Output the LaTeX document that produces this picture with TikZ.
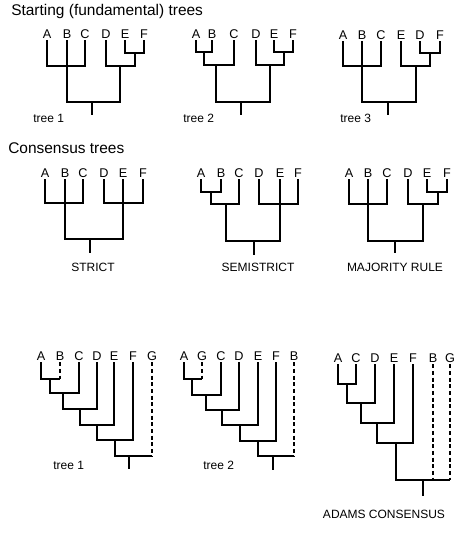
\documentclass[tikz,border=0pt]{standalone}
\usepackage{fontspec}
\setmainfont{Liberation Sans}
\usepackage{tikz}
\tikzstyle{leaf} = [inner sep=1.2pt, font=\fontsize{9.5}{10}\selectfont]
\tikzstyle{branch} = [line width=2.2pt, black]
\tikzstyle{unsure} = [branch, dash pattern=on 3pt off 2pt]
\tikzstyle{heading} = [anchor=base west, inner sep=0pt, font=\fontsize{11.6}{13}\selectfont]
\tikzstyle{caption} = [inner sep=0pt, font=\fontsize{9}{10}\selectfont]

\begin{document}
\begin{tikzpicture}[x=0.75pt, y=-0.75pt]
\fill[white] (0,0) rectangle (465,541);
\useasboundingbox (0,0) rectangle (465,541);

% Headings
\node (hstart) [heading] at (11,15.5) {Starting (fundamental) trees};
\node (hcons) [heading] at (8,154) {Consensus trees};

% Starting tree 1
\node (t1a) [leaf] at (47,34) {A};
\node (t1b) [leaf] at (67,34) {B};
\node (t1c) [leaf] at (85,34) {C};
\node (t1d) [leaf] at (106,34) {D};
\node (t1e) [leaf] at (125,34) {E};
\node (t1f) [leaf] at (144,34) {F};
\coordinate (t1abc) at (67,66);
\coordinate (t1ef) at (135,53);
\coordinate (t1def) at (120,66);
\coordinate (t1r) at (92,102);
\coordinate (t1root) at (92,115);
\draw[branch] (t1a.south) |- (t1abc) -| (t1c.south);
\draw[branch] (t1b.south) |- (t1abc);
\draw[branch] (t1e.south) |- (t1ef) -| (t1f.south);
\draw[branch] (t1d.south) |- (t1def) -| (t1ef);
\draw[branch] (t1abc) |- (t1r) -| (t1def);
\draw[branch] (t1r) -- (t1root);
\node (t1lab) [caption, anchor=west] at (33,118) {tree 1};

% Starting tree 2
\node (t2a) [leaf] at (196,34) {A};
\node (t2b) [leaf] at (212,34) {B};
\node (t2c) [leaf] at (234,34) {C};
\node (t2d) [leaf] at (256,34) {D};
\node (t2e) [leaf] at (274,34) {E};
\node (t2f) [leaf] at (293,34) {F};
\coordinate (t2ab) at (204,52);
\coordinate (t2abc) at (216,65);
\coordinate (t2ef) at (284,52);
\coordinate (t2def) at (270,65);
\coordinate (t2r) at (241,102);
\coordinate (t2root) at (241,115);
\draw[branch] (t2a.south) |- (t2ab) -| (t2b.south);
\draw[branch] (t2ab) |- (t2abc) -| (t2c.south);
\draw[branch] (t2e.south) |- (t2ef) -| (t2f.south);
\draw[branch] (t2d.south) |- (t2def) -| (t2ef);
\draw[branch] (t2abc) |- (t2r) -| (t2def);
\draw[branch] (t2r) -- (t2root);
\node (t2lab) [caption, anchor=west] at (183,118) {tree 2};

% Starting tree 3
\node (t3a) [leaf] at (343,35) {A};
\node (t3b) [leaf] at (362,35) {B};
\node (t3c) [leaf] at (381,35) {C};
\node (t3e) [leaf] at (401,35) {E};
\node (t3d) [leaf] at (420,35) {D};
\node (t3f) [leaf] at (440,35) {F};
\coordinate (t3abc) at (362,66);
\coordinate (t3df) at (430,53);
\coordinate (t3edf) at (416,66);
\coordinate (t3r) at (388,102);
\coordinate (t3root) at (388,115);
\draw[branch] (t3a.south) |- (t3abc) -| (t3c.south);
\draw[branch] (t3b.south) |- (t3abc);
\draw[branch] (t3d.south) |- (t3df) -| (t3f.south);
\draw[branch] (t3e.south) |- (t3edf) -| (t3df);
\draw[branch] (t3abc) |- (t3r) -| (t3edf);
\draw[branch] (t3r) -- (t3root);
\node (t3lab) [caption, anchor=west] at (340,118) {tree 3};

% Strict consensus
\node (sa) [leaf] at (45,173) {A};
\node (sb) [leaf] at (65,173) {B};
\node (sc) [leaf] at (83,173) {C};
\node (sd) [leaf] at (104,173) {D};
\node (se) [leaf] at (123,173) {E};
\node (sf) [leaf] at (143,173) {F};
\coordinate (sabc) at (65,203);
\coordinate (sdef) at (123,203);
\coordinate (sr) at (90,239);
\coordinate (sroot) at (90,253);
\draw[branch] (sa.south) |- (sabc) -| (sc.south);
\draw[branch] (sb.south) |- (sabc);
\draw[branch] (sd.south) |- (sdef) -| (sf.south);
\draw[branch] (se.south) |- (sdef);
\draw[branch] (sabc) |- (sr) -| (sdef);
\draw[branch] (sr) -- (sroot);
\node (slab) [caption] at (93,267) {STRICT};

% Semistrict consensus
\node (ssa) [leaf] at (201,173) {A};
\node (ssb) [leaf] at (221,173) {B};
\node (ssc) [leaf] at (239,173) {C};
\node (ssd) [leaf] at (259,173) {D};
\node (sse) [leaf] at (280,173) {E};
\node (ssf) [leaf] at (298,173) {F};
\coordinate (ssab) at (211,192);
\coordinate (ssabc) at (226,204);
\coordinate (ssdef) at (280,204);
\coordinate (ssr) at (254,241);
\coordinate (ssroot) at (254,255);
\draw[branch] (ssa.south) |- (ssab) -| (ssb.south);
\draw[branch] (ssab) |- (ssabc) -| (ssc.south);
\draw[branch] (ssd.south) |- (ssdef) -| (ssf.south);
\draw[branch] (sse.south) |- (ssdef);
\draw[branch] (ssabc) |- (ssr) -| (ssdef);
\draw[branch] (ssr) -- (ssroot);
\node (sslab) [caption] at (258,267) {SEMISTRICT};

% Majority rule consensus
\node (ma) [leaf] at (349,173) {A};
\node (mb) [leaf] at (368,173) {B};
\node (mc) [leaf] at (387,173) {C};
\node (md) [leaf] at (408,173) {D};
\node (me) [leaf] at (427,173) {E};
\node (mf) [leaf] at (447,173) {F};
\coordinate (mabc) at (368,204);
\coordinate (mef) at (438,192);
\coordinate (mdef) at (423,204);
\coordinate (mr) at (395,241);
\coordinate (mroot) at (395,253);
\draw[branch] (ma.south) |- (mabc) -| (mc.south);
\draw[branch] (mb.south) |- (mabc);
\draw[branch] (me.south) |- (mef) -| (mf.south);
\draw[branch] (md.south) |- (mdef) -| (mef);
\draw[branch] (mabc) |- (mr) -| (mdef);
\draw[branch] (mr) -- (mroot);
\node (mlab) [caption] at (395,267) {MAJORITY RULE};

% Lower tree 1
\node (b1a) [leaf] at (41,356) {A};
\node (b1b) [leaf] at (60,356) {B};
\node (b1c) [leaf] at (79,356) {C};
\node (b1d) [leaf] at (97,356) {D};
\node (b1e) [leaf] at (114,356) {E};
\node (b1f) [leaf] at (133,356) {F};
\node (b1g) [leaf] at (152,356) {G};
\coordinate (b1ab) at (50,379);
\coordinate (b1abc) at (63,393);
\coordinate (b1abcd) at (80,409);
\coordinate (b1abcde) at (97,425);
\coordinate (b1abcdef) at (115,440);
\coordinate (b1r) at (129,456);
\coordinate (b1root) at (129,469);
\draw[branch] (b1a.south) |- (b1b.south |- b1ab);
\draw[unsure] (b1b.south) -- (b1b.south |- b1ab);
\draw[branch] (b1ab) |- (b1abc) -| (b1c.south);
\draw[branch] (b1abc) |- (b1abcd) -| (b1d.south);
\draw[branch] (b1abcd) |- (b1abcde) -| (b1e.south);
\draw[branch] (b1abcde) |- (b1abcdef) -| (b1f.south);
\draw[branch] (b1abcdef) |- (b1g.south |- b1r);
\draw[unsure] (b1g.south) -- (b1g.south |- b1r);
\draw[branch] (b1r) -- (b1root);
\node (b1lab) [caption, anchor=west] at (53,465) {tree 1};

% Lower tree 2
\node (b2a) [leaf] at (184,356) {A};
\node (b2g) [leaf] at (202,356) {G};
\node (b2c) [leaf] at (221,356) {C};
\node (b2d) [leaf] at (239,356) {D};
\node (b2e) [leaf] at (258,356) {E};
\node (b2f) [leaf] at (276,356) {F};
\node (b2b) [leaf] at (294,356) {B};
\coordinate (b2ag) at (192,379);
\coordinate (b2agc) at (206,395);
\coordinate (b2agcd) at (222,410);
\coordinate (b2agcde) at (240,425);
\coordinate (b2agcdef) at (258,441);
\coordinate (b2r) at (273,456);
\coordinate (b2root) at (273,470);
\draw[branch] (b2a.south) |- (b2g.south |- b2ag);
\draw[unsure] (b2g.south) -- (b2g.south |- b2ag);
\draw[branch] (b2ag) |- (b2agc) -| (b2c.south);
\draw[branch] (b2agc) |- (b2agcd) -| (b2d.south);
\draw[branch] (b2agcd) |- (b2agcde) -| (b2e.south);
\draw[branch] (b2agcde) |- (b2agcdef) -| (b2f.south);
\draw[branch] (b2agcdef) |- (b2b.south |- b2r);
\draw[unsure] (b2b.south) -- (b2b.south |- b2r);
\draw[branch] (b2r) -- (b2root);
\node (b2lab) [caption, anchor=west] at (203,465) {tree 2};

% Adams consensus
\node (ada) [leaf] at (338,358) {A};
\node (adc) [leaf] at (356,358) {C};
\node (add) [leaf] at (375,358) {D};
\node (ade) [leaf] at (394,358) {E};
\node (adf) [leaf] at (413,358) {F};
\node (adb) [leaf] at (433,358) {B};
\node (adg) [leaf] at (450,358) {G};
\coordinate (adac) at (347,384);
\coordinate (adacd) at (361,403);
\coordinate (adacde) at (377,423);
\coordinate (adacdef) at (396,443);
\coordinate (adr) at (423,480);
\coordinate (adroot) at (423,496);
\draw[branch] (ada.south) |- (adac) -| (adc.south);
\draw[branch] (adac) |- (adacd) -| (add.south);
\draw[branch] (adacd) |- (adacde) -| (ade.south);
\draw[branch] (adacde) |- (adacdef) -| (adf.south);
\draw[branch] (adacdef) |- (adg.south |- adr);
\draw[unsure] (adb.south) -- (adb.south |- adr);
\draw[unsure] (adg.south) -- (adg.south |- adr);
\draw[branch] (adr) -- (adroot);
\node (adlab) [caption] at (384,514) {ADAMS CONSENSUS};
\end{tikzpicture}
\end{document}
